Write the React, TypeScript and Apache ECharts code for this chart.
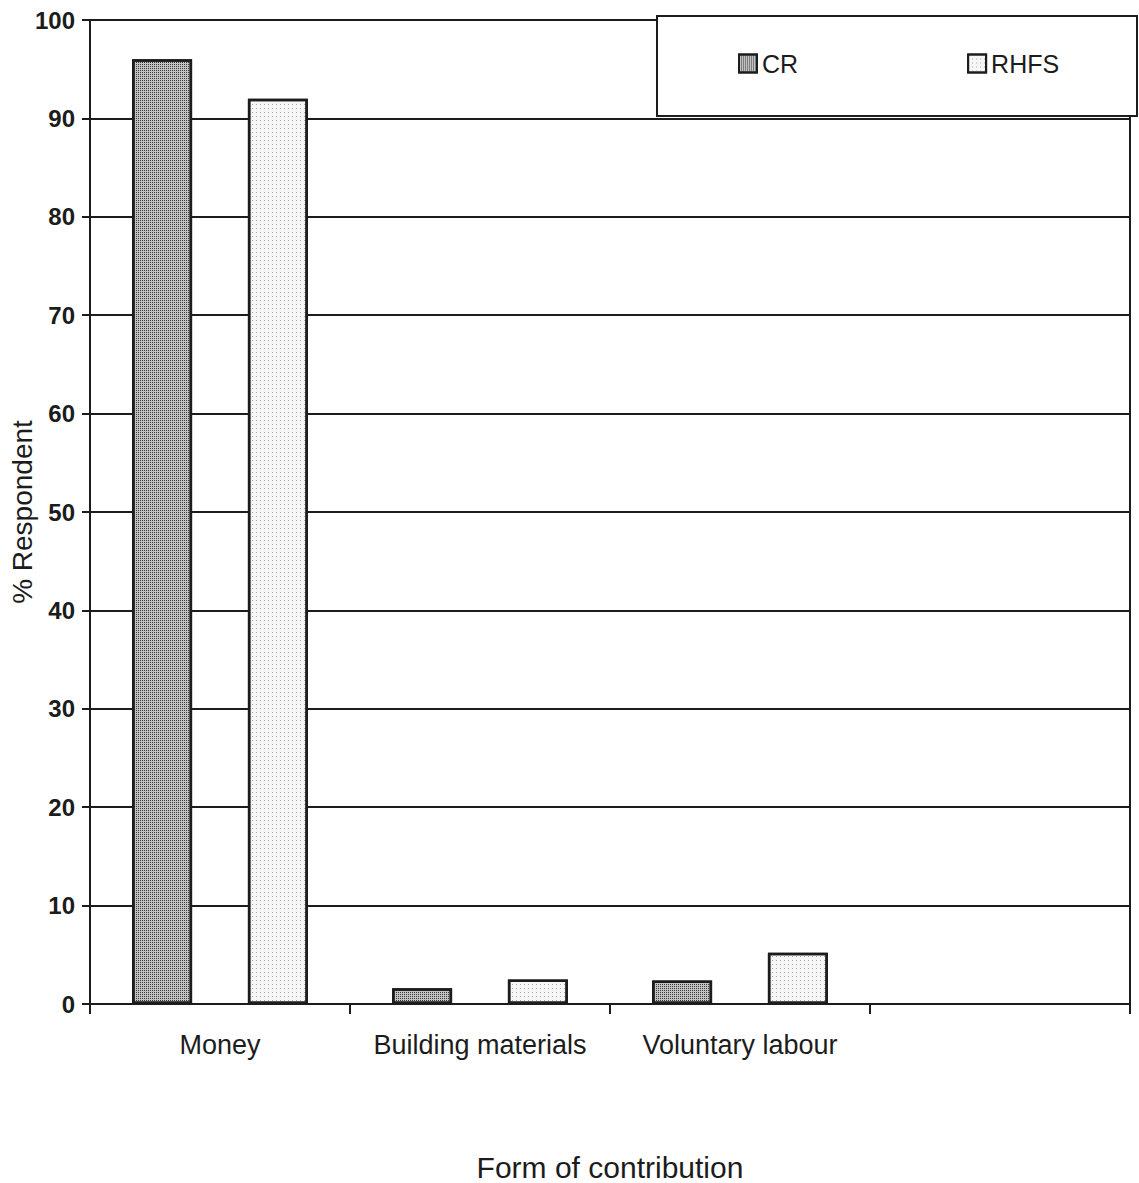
import React, { useEffect, useRef } from "react";
import * as echarts from "echarts";

// Form of contribution vs. share of respondents (%)
const categories = ["Money", "Building materials", "Voluntary labour", ""];
const crValues = [96, 1.6, 2.4, null];
const rhfsValues = [92, 2.5, 5.2, null];
const yTicks = { min: 0, max: 100, interval: 10 };

const INK = "#1c1c1c";
const FONT = "'Liberation Sans', Arial, sans-serif";

export default function App() {
  const ref = useRef<HTMLDivElement>(null);

  useEffect(() => {
    document.body.style.margin = "0";
    const chart = echarts.init(ref.current!, null, { renderer: "svg" });
    chart.setOption({
      animation: false,
      backgroundColor: "#ffffff",
      textStyle: { fontFamily: FONT, color: INK },
      grid: {
        left: 90,
        right: 9,
        top: 20,
        bottom: 179,
        outerBoundsMode: "none",
        containLabel: false,
        show: true,
        borderColor: INK,
        borderWidth: 2,
        backgroundColor: "transparent",
      },
      // framed box behind the legend entries
      graphic: [
        {
          type: "rect",
          z: 3,
          shape: { x: 657, y: 16, width: 480, height: 100 },
          style: { fill: "#ffffff", stroke: INK, lineWidth: 2 },
        },
      ],
      legend: {
        left: 738,
        top: 51,
        orient: "horizontal",
        itemWidth: 18,
        itemHeight: 18,
        itemGap: 169,
        padding: 0,
        icon: "rect",
        z: 10,
        textStyle: { fontSize: 25, color: INK, fontFamily: FONT, padding: [0, 0, 0, 0] },
        data: ["CR", "RHFS"],
      },
      xAxis: {
        type: "category",
        data: categories,
        boundaryGap: true,
        name: "Form of contribution",
        nameLocation: "middle",
        nameGap: 148,
        nameMoveOverlap: false,
        nameTextStyle: { fontSize: 30, color: INK, fontFamily: FONT, verticalAlign: "top" },
        axisLine: { show: true, lineStyle: { color: INK, width: 2 } },
        axisTick: { show: true, length: 10, interval: 0, lineStyle: { color: INK, width: 2 } },
        axisLabel: { interval: 0, margin: 27, fontSize: 27, color: INK, fontFamily: FONT },
        splitLine: { show: false },
      },
      yAxis: {
        type: "value",
        min: yTicks.min,
        max: yTicks.max,
        interval: yTicks.interval,
        name: "% Respondent",
        nameLocation: "middle",
        nameGap: 54,
        nameMoveOverlap: false,
        nameRotate: 90,
        nameTextStyle: { fontSize: 28, color: INK, fontFamily: FONT },
        axisLine: { show: true, lineStyle: { color: INK, width: 2 } },
        axisTick: { show: true, length: 8, lineStyle: { color: INK, width: 2 } },
        axisLabel: { margin: 15, fontSize: 24, fontWeight: "bold", color: INK, fontFamily: FONT },
        splitLine: { show: true, lineStyle: { color: INK, width: 2 } },
      },
      series: [
        {
          name: "CR",
          type: "bar",
          data: crValues,
          barWidth: 60,
          barGap: "93%",
          itemStyle: {
            color: "#c2c2c2",
            borderColor: INK,
            borderWidth: 2.5,
            decal: {
              symbol: "rect",
              symbolSize: 1,
              dashArrayX: [1, 1],
              dashArrayY: [1, 1],
              color: "#3a3a3a",
            },
          },
        },
        {
          name: "RHFS",
          type: "bar",
          data: rhfsValues,
          barWidth: 60,
          itemStyle: {
            color: "#f6f6f6",
            borderColor: INK,
            borderWidth: 2.5,
            decal: {
              symbol: "rect",
              symbolSize: 1,
              dashArrayX: [1, 3],
              dashArrayY: [1, 3],
              color: "#a8a8a8",
            },
          },
        },
      ],
    });
    return () => chart.dispose();
  }, []);

  return <div ref={ref} style={{ width: 1139, height: 1183 }} />;
}
